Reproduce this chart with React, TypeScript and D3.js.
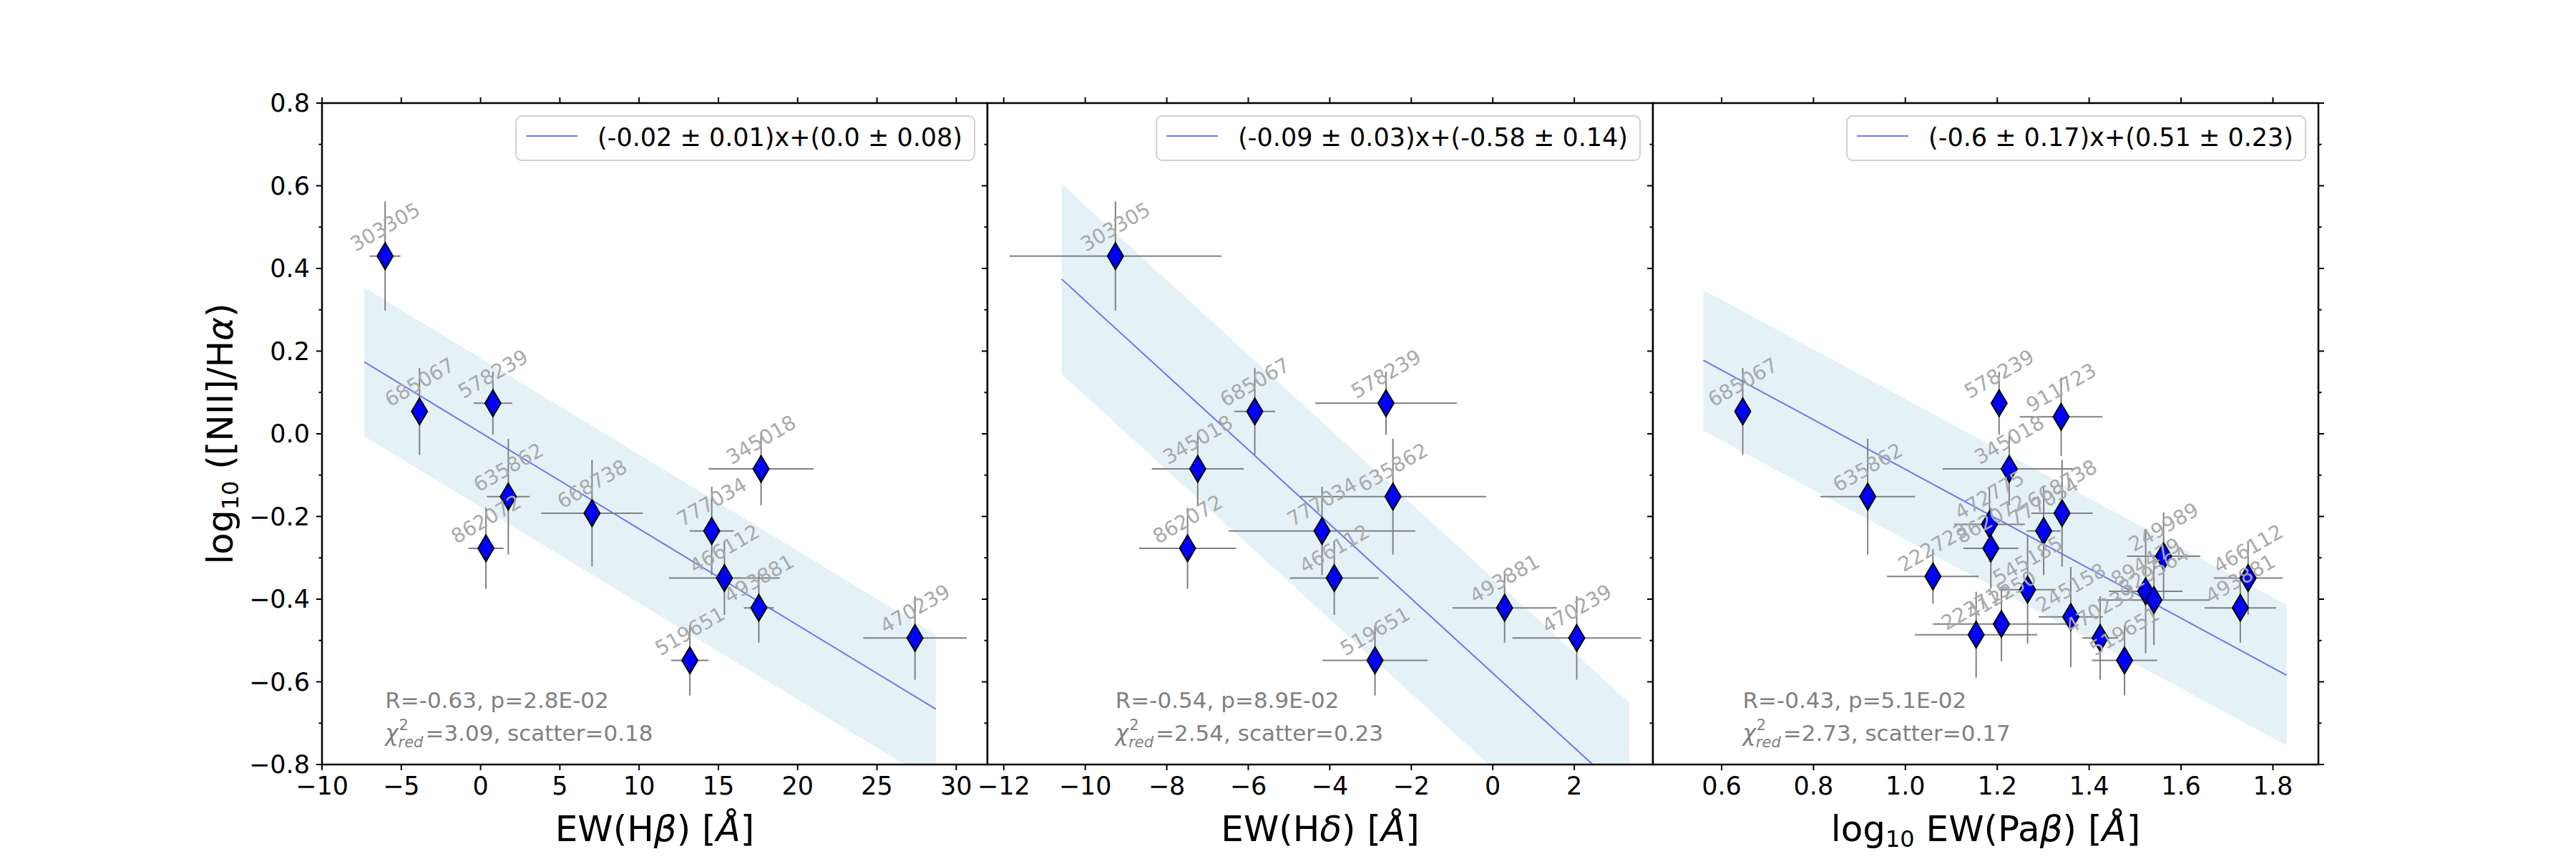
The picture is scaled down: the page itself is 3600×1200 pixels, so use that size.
import React from 'react';
import * as d3 from 'd3';

// EW(Hβ) sample
const hbNames = ['303305', '685067', '578239', '635862', '862072', '668738', '345018', '777034', '466112', '493881', '519651', '470239'];
const hbX = [-6.02, -3.85, 0.78, 1.75, 0.34, 7.03, 17.69, 14.58, 15.38, 17.55, 13.2, 27.4];
const hbXErr = [0.97, 0.4, 1.22, 1.35, 1.11, 3.2, 3.31, 1.39, 3.5, 0.95, 1.17, 3.26];
const hbY = [0.43, 0.054, 0.074, -0.152, -0.277, -0.192, -0.085, -0.235, -0.349, -0.421, -0.548, -0.494];
const hbYErr = [0.132, 0.105, 0.076, 0.14, 0.098, 0.129, 0.088, 0.107, 0.089, 0.084, 0.085, 0.101];

// EW(Hδ) sample
const hdNames = ['303305', '685067', '578239', '345018', '635862', '777034', '862072', '466112', '493881', '470239', '519651'];
const hdX = [-9.26, -5.84, -2.62, -7.24, -2.45, -4.19, -7.49, -3.89, 0.29, 2.06, -2.89];
const hdXErr = [2.6, 0.5, 1.74, 1.13, 2.29, 2.29, 1.19, 1.09, 1.28, 1.58, 1.29];
const hdY = [0.43, 0.054, 0.074, -0.085, -0.152, -0.235, -0.277, -0.349, -0.421, -0.494, -0.548];
const hdYErr = [0.132, 0.105, 0.076, 0.088, 0.14, 0.107, 0.098, 0.089, 0.084, 0.101, 0.085];

// log EW(Paβ) sample
const pbNames = ['685067', '578239', '911723', '635862', '345018', '472775', '862072', '777034', '668738', '222723', '545185',
  '412250', '223715', '245158', '470239', '519651', '894479', '329564', '249989', '466112', '493881'];
const pbX = [0.646, 1.204, 1.339, 0.918, 1.226, 1.183, 1.186, 1.301, 1.341, 1.06, 1.266,
  1.209, 1.154, 1.36, 1.424, 1.477, 1.523, 1.541, 1.562, 1.746, 1.729];
const pbXErr = [0.01, 0.018, 0.09, 0.103, 0.145, 0.077, 0.06, 0.037, 0.067, 0.1, 0.061,
  0.149, 0.133, 0.07, 0.039, 0.071, 0.08, 0.122, 0.08, 0.075, 0.078];
const pbY = [0.054, 0.074, 0.041, -0.152, -0.085, -0.219, -0.277, -0.235, -0.192, -0.345, -0.377,
  -0.46, -0.486, -0.443, -0.494, -0.548, -0.381, -0.402, -0.296, -0.349, -0.421];
const pbYErr = [0.105, 0.076, 0.095, 0.14, 0.088, 0.091, 0.098, 0.107, 0.129, 0.066, 0.131,
  0.09, 0.104, 0.121, 0.101, 0.085, 0.15, 0.109, 0.106, 0.089, 0.084];

// linear fits, one entry per panel
const fitSlope = [-0.0233, -0.0901, -0.6];
const fitSlopeErr = [0.01, 0.03, 0.17];
const fitIntercept = [0.003, -0.579, 0.514];
const fitInterceptErr = [0.08, 0.14, 0.23];
const fitScatter = [0.18, 0.23, 0.17];
const fitChi2 = ['3.09', '2.54', '2.73'];
const fitXRange = [[-7.34, 28.72], [-10.58, 3.35], [0.56, 1.83]];
const corrR = ['-0.63', '-0.54', '-0.43'];
const corrP = ['2.8E-02', '8.9E-02', '5.1E-02'];

// axes
const xDomains = [[-10, 31.97], [-12.4, 3.93], [0.4505, 1.899]];
const xTickValues = [[-10, -5, 0, 5, 10, 15, 20, 25, 30], [-12, -10, -8, -6, -4, -2, 0, 2], [0.6, 0.8, 1.0, 1.2, 1.4, 1.6, 1.8]];
const xTickFormats = ['d', 'd', '.1f'];
const yTickValues = [-0.8, -0.6, -0.4, -0.2, 0.0, 0.2, 0.4, 0.6, 0.8];
const yMinorTicks = [-0.7, -0.5, -0.3, -0.1, 0.1, 0.3, 0.5, 0.7];

const W = 3600;
const H = 1200;
const LEFT = 450;
const TOP = 144;
const PW = 930;
const PH = 924;
const FONT = 'DejaVu Sans';
const TICK_FONT = 35;
const LEGEND_FONT = 35;

const ctx = document.createElement('canvas').getContext('2d');
function textWidth(s: string, size: number, style = 'normal') {
  if (!ctx) return s.length * size * 0.62;
  ctx.font = `${style} ${size}px "${FONT}"`;
  return ctx.measureText(s).width;
}

// python-style str(round(v, 2))
function pyRound(v: number) {
  const r = Math.round(v * 100) / 100;
  let s = String(r === 0 ? 0 : r);
  if (!s.includes('.')) s += '.0';
  return s;
}

const diamond = (cx: number, cy: number) => `M${cx},${cy - 18.5}L${cx + 11},${cy}L${cx},${cy + 18.5}L${cx - 11},${cy}Z`;

type Sample = { names: string[]; x: number[]; xErr: number[]; y: number[]; yErr: number[] };

const yScale = d3.scaleLinear().domain([-0.8, 0.8]).range([TOP + PH, TOP]);

function Panel({ i, s }: { i: number; s: Sample }) {
  const x0 = LEFT + i * PW;
  const x = d3.scaleLinear().domain(xDomains[i]).range([x0, x0 + PW]);
  const y = yScale;
  const m = fitSlope[i];
  const b = fitIntercept[i];
  const sc = fitScatter[i];
  const ends = fitXRange[i];

  const band = d3.area<number>().x((v) => x(v)).y0((v) => y(m * v + b - sc)).y1((v) => y(m * v + b + sc));
  const fit = d3.line<number>().x((v) => x(v)).y((v) => y(m * v + b));

  const legendText = `(${pyRound(m)} ± ${pyRound(fitSlopeErr[i])})x+(${pyRound(b)} ± ${pyRound(fitInterceptErr[i])})`;
  const lw = textWidth(legendText, LEGEND_FONT);
  const boxR = x0 + PW - 18;
  const boxW = 14 + 72 + 28 + lw + 17;
  const boxL = boxR - boxW;

  const annFont = 28;
  const sin30 = 0.5;
  const cos30 = Math.sqrt(3) / 2;

  const statX = x(d3.min(s.x) as number);
  const chiW = textWidth('χ', 31, 'italic');
  const redW = textWidth('red', 21, 'italic');
  const fmt = d3.format(xTickFormats[i]);

  return (
    <g>
      <rect x={x0} y={TOP} width={PW} height={PH} fill="#fff" />
      <clipPath id={`clip${i}`}>
        <rect x={x0} y={TOP} width={PW} height={PH} />
      </clipPath>
      <g clipPath={`url(#clip${i})`}>
        <path d={band(ends) ?? ''} fill="#add8e6" fillOpacity={0.33} />
        <path d={fit(ends) ?? ''} stroke="#2020f0" strokeOpacity={0.6} strokeWidth={2} fill="none" />
        {s.x.map((v, k) => (
          <g key={k} stroke="#808080" strokeWidth={2}>
            <line x1={x(v - s.xErr[k])} x2={x(v + s.xErr[k])} y1={y(s.y[k])} y2={y(s.y[k])} />
            <line x1={x(v)} x2={x(v)} y1={y(s.y[k] - s.yErr[k])} y2={y(s.y[k] + s.yErr[k])} />
          </g>
        ))}
        {s.x.map((v, k) => (
          <path key={k} d={diamond(x(v), y(s.y[k]))} fill="#0000ff" stroke="#000" strokeWidth={2} strokeLinejoin="miter" />
        ))}
      </g>
      {s.names.map((n, k) => {
        const w = textWidth(n, annFont);
        const hb = w * sin30 + annFont * 1.17 * cos30;
        return (
          <text key={n} transform={`translate(${x(s.x[k])},${y(s.y[k]) - hb / 2}) rotate(-30)`} textAnchor="middle"
            dy="0.35em" fontSize={annFont} fill="#a9a9a9">{n}</text>
        );
      })}

      {/* spines */}
      <rect x={x0} y={TOP} width={PW} height={PH} fill="none" stroke="#000" strokeWidth={2.5} />

      {/* ticks, pointing outward on every side */}
      <g stroke="#000" strokeWidth={2}>
        {xTickValues[i].map((t) => (
          <g key={t}>
            <line x1={x(t)} x2={x(t)} y1={TOP + PH} y2={TOP + PH + 8} />
            <line x1={x(t)} x2={x(t)} y1={TOP} y2={TOP - 8} />
          </g>
        ))}
        {yTickValues.map((t) => (
          <g key={t}>
            <line x1={x0} x2={x0 - 8} y1={y(t)} y2={y(t)} />
            <line x1={x0 + PW} x2={x0 + PW + 8} y1={y(t)} y2={y(t)} />
          </g>
        ))}
        {yMinorTicks.map((t) => (
          <g key={t}>
            <line x1={x0} x2={x0 - 4.5} y1={y(t)} y2={y(t)} />
            <line x1={x0 + PW} x2={x0 + PW + 4.5} y1={y(t)} y2={y(t)} />
          </g>
        ))}
      </g>
      <g fontSize={TICK_FONT} fill="#000" textAnchor="middle">
        {xTickValues[i].map((t) => (
          <text key={t} x={x(t)} y={1110}>{fmt(t)}</text>
        ))}
      </g>

      {/* legend */}
      <rect x={boxL} y={162} width={boxW} height={62} rx={8} fill="#fff" fillOpacity={0.8} stroke="#d0d0d0" strokeWidth={2} />
      <line x1={boxL + 14} x2={boxL + 86} y1={190} y2={190} stroke="#2020f0" strokeOpacity={0.6} strokeWidth={2} />
      <text x={boxL + 114} y={204} fontSize={LEGEND_FONT} fill="#000">{legendText}</text>

      {/* correlation stats */}
      <g fill="#808080">
        <text x={statX} y={989} fontSize={31}>{`R=${corrR[i]}, p=${corrP[i]}`}</text>
        <text x={statX} y={1035} fontSize={31} fontStyle="italic">χ</text>
        <text x={statX + chiW + 1} y={1020} fontSize={21}>2</text>
        <text x={statX + chiW} y={1044} fontSize={21} fontStyle="italic">red</text>
        <text x={statX + chiW + redW + 3} y={1035} fontSize={31}>{`=${fitChi2[i]}, scatter=${fitScatter[i].toFixed(2)}`}</text>
      </g>
    </g>
  );
}

export default function App() {
  const samples: Sample[] = [
    { names: hbNames, x: hbX, xErr: hbXErr, y: hbY, yErr: hbYErr },
    { names: hdNames, x: hdX, xErr: hdXErr, y: hdY, yErr: hdYErr },
    { names: pbNames, x: pbX, xErr: pbXErr, y: pbY, yErr: pbYErr },
  ];
  const fmtY = d3.format('.1f');
  const cx = (i: number) => LEFT + i * PW + PW / 2;

  return (
    <svg width={W} height={H} style={{ position: 'absolute', left: 0, top: 0 }} fontFamily={FONT}>
      <rect width={W} height={H} fill="#fff" />
      {samples.map((s, i) => (
        <Panel key={i} i={i} s={s} />
      ))}

      <g fontSize={TICK_FONT} textAnchor="end">
        {yTickValues.map((t) => (
          <text key={t} x={433} y={yScale(t)} dy="0.35em">{fmtY(t)}</text>
        ))}
      </g>

      <text transform={`translate(325,${TOP + PH / 2}) rotate(-90)`} textAnchor="middle" fontSize={50}>
        log<tspan fontSize={32} dy={8}>10</tspan>
        <tspan dy={-8}>{' ([NII]/H'}</tspan>
        <tspan fontStyle="italic">α</tspan>)
      </text>

      <g fontSize={50} textAnchor="middle">
        <text x={cx(0)} y={1175}>
          EW(H<tspan fontStyle="italic">β</tspan>) [<tspan fontStyle="italic">Å</tspan>]
        </text>
        <text x={cx(1)} y={1175}>
          EW(H<tspan fontStyle="italic">δ</tspan>) [<tspan fontStyle="italic">Å</tspan>]
        </text>
        <text x={cx(2)} y={1175}>
          log<tspan fontSize={32} dy={8}>10</tspan>
          <tspan dy={-8}>{' EW(Pa'}</tspan>
          <tspan fontStyle="italic">β</tspan>) [<tspan fontStyle="italic">Å</tspan>]
        </text>
      </g>
    </svg>
  );
}
